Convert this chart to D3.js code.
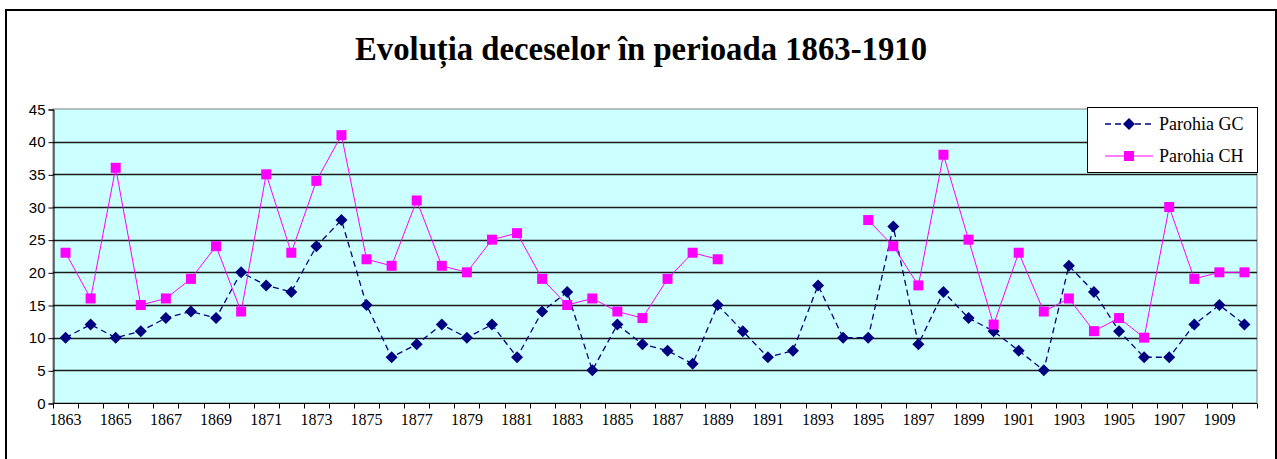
<!DOCTYPE html>
<html>
<head>
<meta charset="utf-8">
<script src="https://cdn.jsdelivr.net/npm/d3@7"></script>
<style>
  body { margin: 0; background: #fff; }
  svg { display: block; }
</style>
</head>
<body>
<div id="chart"></div>
<script>
// data
const years = d3.range(1863, 1911);
const parohiaGC = [10, 12, 10, 11, 13, 14, 13, 20, 18, 17, 24, 28, 15, 7, 9, 12, 10, 12, 7, 14,
  17, 5, 12, 9, 8, 6, 15, 11, 7, 8, 18, 10, 10, 27, 9, 17, 13, 11, 8, 5, 21, 17, 11, 7, 7, 12, 15, 12];
const parohiaCH = [23, 16, 36, 15, 16, 19, 24, 14, 35, 23, 34, 41, 22, 21, 31, 21, 20, 25, 26, 19,
  15, 16, 14, 13, 19, 23, 22, null, null, null, null, null, 28, 24, 18, 38, 25, 12, 23, 14, 16, 11, 13, 10, 30, 19, 20, 20];
const yTicks = [0, 5, 10, 15, 20, 25, 30, 35, 40, 45];

const width = 1277, height = 459;
const plot = { left: 53, right: 1257, top: 109, bottom: 403 };

const svg = d3.select("#chart").append("svg")
    .attr("width", width)
    .attr("height", height);

// outer chart frame
svg.append("rect")
    .attr("x", 6).attr("y", 10)
    .attr("width", 1270).attr("height", 460)
    .attr("fill", "#fff")
    .attr("stroke", "#000")
    .attr("stroke-width", 2);

svg.append("text")
    .attr("x", 641).attr("y", 60)
    .attr("text-anchor", "middle")
    .attr("textLength", 572)
    .attr("lengthAdjust", "spacingAndGlyphs")
    .style("font-family", "'Liberation Serif', 'Times New Roman', serif")
    .style("font-weight", "bold")
    .style("font-size", "33px")
    .text("Evoluția deceselor în perioada 1863-1910");

const x = d3.scaleBand()
    .domain(years)
    .range([plot.left, plot.right]);

const y = d3.scaleLinear()
    .domain([0, 45])
    .range([plot.bottom, plot.top]);

svg.append("rect")
    .attr("x", plot.left).attr("y", plot.top)
    .attr("width", plot.right - plot.left)
    .attr("height", plot.bottom - plot.top)
    .attr("fill", "#ccffff")
    .attr("stroke", "#808080");

// gridlines
svg.append("g")
    .selectAll("line")
    .data(yTicks.filter(d => d > 0 && d < 45))
    .join("line")
    .attr("x1", plot.left).attr("x2", plot.right)
    .attr("y1", d => Math.round(y(d)) + 0.5)
    .attr("y2", d => Math.round(y(d)) + 0.5)
    .attr("stroke", "#1a1a1a")
    .attr("stroke-width", 1.3);

// y axis
const yAxis = svg.append("g")
    .attr("transform", `translate(${plot.left + 0.5},0.5)`)
    .call(d3.axisLeft(y).tickValues(yTicks).tickSize(5).tickPadding(3));
yAxis.select(".domain").attr("stroke", "#000");
yAxis.selectAll("text")
    .style("font-family", "'Liberation Sans', Arial, sans-serif")
    .style("font-size", "15px")
    .attr("fill", "#000");

// x axis: ticks between categories, labels every other year
const xAxisG = svg.append("g")
    .attr("transform", `translate(0,${plot.bottom + 0.5})`);
xAxisG.append("line")
    .attr("x1", plot.left).attr("x2", plot.right)
    .attr("stroke", "#000");
xAxisG.selectAll(".tk")
    .data(years.concat([1911]))
    .join("line")
    .attr("class", "tk")
    .attr("x1", d => Math.round(d === 1911 ? plot.right : x(d)) + 0.5)
    .attr("x2", d => Math.round(d === 1911 ? plot.right : x(d)) + 0.5)
    .attr("y1", 0).attr("y2", 5)
    .attr("stroke", "#000");
xAxisG.selectAll("text")
    .data(years.filter((d, i) => i % 2 === 0))
    .join("text")
    .attr("x", d => x(d) + x.bandwidth() / 2)
    .attr("y", 21)
    .attr("text-anchor", "middle")
    .style("font-family", "'Liberation Serif', 'Times New Roman', serif")
    .style("font-size", "16px")
    .text(d => d);

const cx = d => x(d) + x.bandwidth() / 2;

const seriesGC = years.map((yr, i) => ({ yr, v: parohiaGC[i] }));
const seriesCH = years.map((yr, i) => ({ yr, v: parohiaCH[i] }));

const line = d3.line()
    .defined(d => d.v != null)
    .x(d => cx(d.yr))
    .y(d => y(d.v));

svg.append("path")
    .datum(seriesGC)
    .attr("d", line)
    .attr("fill", "none")
    .attr("stroke", "#000080")
    .attr("stroke-width", 1.3)
    .attr("stroke-dasharray", "6,4");

svg.append("path")
    .datum(seriesCH)
    .attr("d", line)
    .attr("fill", "none")
    .attr("stroke", "#ff00ff")
    .attr("stroke-width", 1);

const diamond = "M0,-6L6,0L0,6L-6,0Z";

svg.append("g")
    .selectAll("path")
    .data(seriesGC)
    .join("path")
    .attr("d", diamond)
    .attr("transform", d => `translate(${cx(d.yr)},${y(d.v)})`)
    .attr("fill", "#000080");

svg.append("g")
    .selectAll("rect")
    .data(seriesCH.filter(d => d.v != null))
    .join("rect")
    .attr("x", d => cx(d.yr) - 5)
    .attr("y", d => y(d.v) - 5)
    .attr("width", 10).attr("height", 10)
    .attr("fill", "#ff00ff");

// legend
const legend = svg.append("g");
legend.append("rect")
    .attr("x", 1087.5).attr("y", 107.5)
    .attr("width", 170).attr("height", 65)
    .attr("fill", "#fff")
    .attr("stroke", "#000");

const legendItems = [
  { name: "Parohia GC", color: "#000080", dash: "6,4", width: 1.3, marker: "diamond", yPos: 124 },
  { name: "Parohia CH", color: "#ff00ff", dash: null, width: 1, marker: "square", yPos: 156 }
];

legendItems.forEach(item => {
  legend.append("line")
    .attr("x1", 1105).attr("x2", 1153)
    .attr("y1", item.yPos).attr("y2", item.yPos)
    .attr("stroke", item.color)
    .attr("stroke-width", item.width)
    .attr("stroke-dasharray", item.dash);
  if (item.marker === "diamond") {
    legend.append("path")
      .attr("d", diamond)
      .attr("transform", `translate(1129,${item.yPos})`)
      .attr("fill", item.color);
  } else {
    legend.append("rect")
      .attr("x", 1124).attr("y", item.yPos - 5)
      .attr("width", 10).attr("height", 10)
      .attr("fill", item.color);
  }
  legend.append("text")
    .attr("x", 1159).attr("y", item.yPos + 6)
    .style("font-family", "'Liberation Serif', 'Times New Roman', serif")
    .style("font-size", "18px")
    .text(item.name);
});
</script>
</body>
</html>
